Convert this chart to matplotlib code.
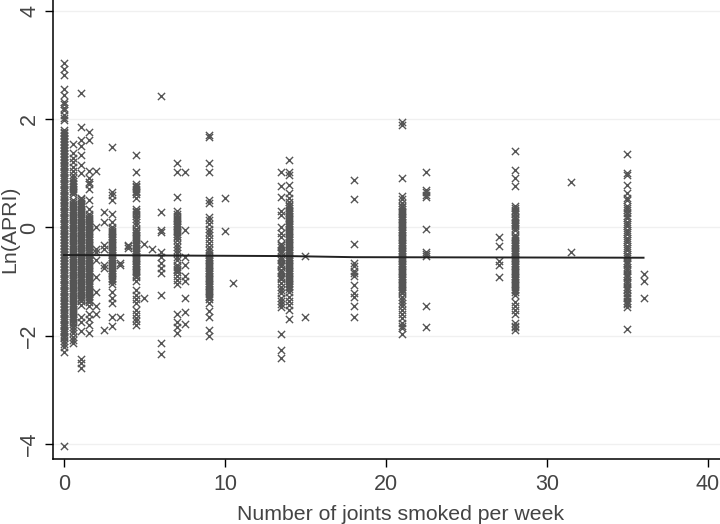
import matplotlib
matplotlib.use("Agg")
import matplotlib.pyplot as plt

##############################################################################################################
# Ln(APRI) against number of joints smoked per week

# INPUT PARAMETERS
joints_list = [0, 0.56, 1.06, 1.54, 2, 2.5, 3, 3.5, 4, 4.5, 5, 5.5, 6, 7, 7.5, 9, 10, 10.5, 13.5, 14, 15, 18, 21, 22.5, 27, 28, 31.5, 35, 36]

apri_0 = [3.05, 2.93, 2.82, 2.57, 2.45, 2.33, 2.28, 2.22, 2.18, 2.08, 2.03, 1.98, 1.80, 1.74, 1.69, 1.63, 1.58, 1.52, 1.47, 1.41, 1.36, 1.30, 1.25, 1.19, 1.14, 1.08, 1.03, 0.97, 0.92, 0.86, 0.81, 0.75, 0.70, 0.64, 0.59, 0.53, 0.48, 0.42, 0.37, 0.31, 0.26, 0.20, 0.15, 0.09, 0.04, -0.02, -0.07, -0.13, -0.18, -0.24, -0.29, -0.35, -0.40, -0.46, -0.51, -0.57, -0.62, -0.68, -0.73, -0.79, -0.84, -0.90, -0.95, -1.01, -1.06, -1.12, -1.17, -1.23, -1.28, -1.34, -1.39, -1.45, -1.50, -1.56, -1.61, -1.67, -1.72, -1.78, -1.83, -1.89, -1.94, -2.00, -2.05, -2.10, -2.16, -2.22, -2.30, -4.05,
          1.77, 1.71, 1.66, 1.60, 1.55, 1.49, 1.44, 1.38, 1.33, 1.27, 1.22, 1.16, 1.11, 1.05, 1.00, 0.94, 0.89, 0.83, 0.78, 0.72, 0.67, 0.61, 0.56, 0.50, 0.45, 0.39, 0.34, 0.28, 0.23, 0.17, 0.12, 0.06, 0.01, -0.05, -0.10, -0.16, -0.21, -0.27, -0.32, -0.38, -0.43, -0.49, -0.54, -0.60, -0.65, -0.71, -0.76, -0.82, -0.87, -0.93, -0.98, -1.04, -1.09, -1.15, -1.20, -1.26, -1.31, -1.37, -1.42, -1.48, -1.53, -1.59, -1.64, -1.70, -1.75, -1.81, -1.86, -1.92, -1.97, -2.03]
apri_05 = [1.54, 1.37, 1.28, 1.22, 1.12, 1.05, 0.98, 0.92, 0.86, 0.80, 0.74, 0.68, 0.62, 0.50, 0.44, 0.38, 0.32, 0.26, 0.20, 0.14, 0.08, 0.02, -0.04, -0.10, -0.16, -0.22, -0.28, -0.34, -0.40, -0.46, -0.52, -0.58, -0.64, -0.70, -0.76, -0.82, -0.88, -0.94, -1.00, -1.06, -1.12, -1.18, -1.24, -1.30, -1.36, -1.42, -1.48, -1.54, -1.60, -1.66, -1.72, -1.78, -1.84, -1.90, -1.96, -2.02, -2.08, -2.14,
           0.83, 0.77, 0.71, 0.65, 0.47, 0.41, 0.35, 0.29, 0.23, 0.17, 0.11, 0.05, -0.01, -0.07, -0.13, -0.19, -0.25, -0.31, -0.37, -0.43, -0.49, -0.55, -0.61, -0.67, -0.73, -0.79, -0.85, -0.91, -0.97, -1.03, -1.09, -1.15, -1.21, -1.27, -1.33, -1.39, -1.45, -1.51, -1.57, -1.63, -1.69, -1.75]
apri_1 = [2.48, 1.86, 1.62, 1.50, 1.35, 1.15, 1.00, 0.55, 0.49, 0.43, 0.37, 0.31, 0.25, 0.19, 0.13, 0.07, 0.01, -0.05, -0.11, -0.17, -0.23, -0.29, -0.35, -0.41, -0.47, -0.53, -0.59, -0.65, -0.71, -0.77, -0.83, -0.89, -0.95, -1.01, -1.07, -1.13, -1.19, -1.25, -1.31, -1.37, -1.44, -1.65, -1.75, -1.92, -2.43, -2.50, -2.60,
          0.52, 0.46, 0.40, 0.34, 0.28, 0.22, 0.16, 0.10, 0.04, -0.02, -0.08, -0.14, -0.20, -0.26, -0.32, -0.38, -0.44, -0.50, -0.56, -0.62, -0.68, -0.74, -0.80, -0.86, -0.92, -0.98, -1.04, -1.10, -1.16, -1.22, -1.28, -1.34]
apri_15 = [1.77, 1.62, 1.05, 0.92, 0.85, 0.80, 0.72, 0.50, 0.35, 0.25, 0.18, 0.12, 0.06, 0.00, -0.06, -0.12, -0.18, -0.24, -0.30, -0.36, -0.42, -0.48, -0.54, -0.60, -0.66, -0.72, -0.78, -0.84, -0.90, -0.96, -1.02, -1.08, -1.14, -1.20, -1.26, -1.32, -1.38, -1.45, -1.60, -1.70, -1.80, -1.95,
           0.21, 0.15, 0.09, 0.03, -0.03, -0.09, -0.15, -0.21, -0.27, -0.33, -0.39, -0.45, -0.51, -0.57, -0.63, -0.69, -0.75, -0.81, -0.87, -0.93, -0.99, -1.05, -1.11, -1.17, -1.23, -1.29, -1.35]
apri_2 = [1.04, 0.00, -0.40, -0.45, -0.60, -0.92, -1.20, -1.45, -1.60]
apri_25 = [0.28, 0.10, -0.33, -0.40, -0.70, -0.75, -1.90]
apri_3 = [1.48, 0.65, 0.60, 0.50, 0.25, 0.10, 0.00, -0.06, -0.12, -0.18, -0.24, -0.30, -0.36, -0.42, -0.48, -0.54, -0.60, -0.66, -0.72, -0.78, -0.84, -0.90, -0.96, -1.05, -1.20, -1.30, -1.40, -1.65, -1.82,
          -0.03, -0.09, -0.15, -0.21, -0.27, -0.33, -0.39, -0.45, -0.51, -0.57, -0.63, -0.69, -0.75, -0.81, -0.87, -0.93, -0.99]
apri_35 = [-0.65, -0.70, -1.65]
apri_4 = [-0.32, -0.35, -0.38]
apri_45 = [1.34, 1.02, 0.80, 0.74, 0.68, 0.62, 0.55, 0.35, 0.28, 0.22, 0.16, 0.10, 0.04, -0.02, -0.08, -0.14, -0.20, -0.26, -0.32, -0.38, -0.44, -0.50, -0.56, -0.62, -0.68, -0.74, -0.80, -0.86, -0.92, -1.00, -1.15, -1.25, -1.32, -1.40, -1.52, -1.60, -1.68, -1.74, -1.80,
           0.77, 0.71, 0.65, 0.31, 0.25, -0.05, -0.11, -0.17, -0.23, -0.29, -0.35, -0.41, -0.47, -0.53, -0.59, -0.65, -0.71, -0.77, -0.83, -0.89]
apri_5 = [-0.30, -1.30]
apri_55 = [-0.40]
apri_6 = [2.44, 0.28, -0.05, -0.08, -0.45, -0.55, -0.65, -0.75, -0.85, -1.25, -2.14, -2.35]
apri_7 = [1.20, 1.03, 0.56, 0.30, 0.24, 0.18, 0.12, 0.06, 0.00, -0.06, -0.12, -0.18, -0.24, -0.30, -0.36, -0.42, -0.48, -0.54, -0.60, -0.70, -0.76, -0.82, -0.90, -0.98, -1.05, -1.60, -1.75, -1.85, -1.95,
          0.21, 0.15, 0.09, 0.03, -0.03, -0.09, -0.15, -0.73, -0.79]
apri_75 = [1.03, -0.05, -0.55, -0.70, -0.90, -1.00, -1.30, -1.57, -1.78]
apri_9 = [1.72, 1.68, 1.20, 1.03, 0.50, 0.45, 0.20, 0.14, 0.06, -0.02, -0.08, -0.14, -0.22, -0.28, -0.36, -0.42, -0.48, -0.54, -0.60, -0.66, -0.72, -0.78, -0.84, -0.90, -0.96, -1.02, -1.08, -1.14, -1.20, -1.26, -1.32, -1.40, -1.55, -1.65, -1.90, -2.00,
          -0.51, -0.57, -0.63, -0.69, -0.75, -0.81, -0.87, -0.93, -0.99, -1.05, -1.11, -1.17, -1.23, -1.29]
apri_10 = [0.55, -0.07]
apri_105 = [-1.03]
apri_135 = [1.03, 0.76, 0.57, 0.30, 0.23, 0.00, -0.10, -0.17, -0.30, -0.36, -0.42, -0.48, -0.54, -0.60, -0.66, -0.72, -0.78, -0.84, -0.90, -0.96, -1.02, -1.10, -1.16, -1.22, -1.30, -1.36, -1.42, -1.47, -1.97, -2.26, -2.41,
            -0.33, -0.45, -0.57, -0.69, -0.81, -0.93]
apri_14 = [1.25, 1.03, 0.98, 0.79, 0.63, 0.54, 0.48, 0.42, 0.36, 0.30, 0.24, 0.18, 0.12, 0.06, 0.00, -0.06, -0.12, -0.18, -0.24, -0.30, -0.36, -0.42, -0.48, -0.54, -0.60, -0.66, -0.72, -0.78, -0.84, -0.90, -0.96, -1.02, -1.08, -1.14, -1.20, -1.28, -1.36, -1.44, -1.53, -1.70,
           0.39, 0.33, 0.27, 0.21, 0.15, 0.09, 0.03, -0.03, -0.09, -0.15, -0.21, -0.27, -0.33, -0.39, -0.45, -0.51, -0.57, -0.63, -0.69, -0.75, -0.81, -0.87, -0.93, -0.99, -1.05, -1.11]
apri_15b = [-0.53, -1.66]
apri_18 = [0.87, 0.53, -0.30, -0.66, -0.72, -0.80, -0.85, -0.90, -1.07, -1.22, -1.28, -1.45, -1.66]
apri_21 = [1.95, 1.90, 0.92, 0.58, 0.52, 0.46, 0.40, 0.34, 0.28, 0.22, 0.16, 0.10, 0.04, -0.02, -0.08, -0.14, -0.20, -0.26, -0.32, -0.38, -0.44, -0.50, -0.56, -0.62, -0.68, -0.74, -0.80, -0.86, -0.92, -0.98, -1.04, -1.10, -1.16, -1.22, -1.28, -1.34, -1.40, -1.46, -1.52, -1.60, -1.68, -1.76, -1.82, -1.87, -1.98,
           0.37, 0.31, 0.25, 0.19, 0.13, 0.07, 0.01, -0.05, -0.11, -0.17, -0.23, -0.29, -0.35, -0.41, -0.47, -0.53, -0.59, -0.65, -0.71, -0.77, -0.83, -0.89, -0.95, -1.01, -1.07, -1.13, -1.19]
apri_225 = [1.03, 0.69, 0.65, 0.60, 0.57, -0.03, -0.45, -0.50, -0.53, -1.45, -1.84]
apri_27 = [-0.17, -0.34, -0.63, -0.69, -0.91]
apri_28 = [1.42, 1.06, 0.92, 0.76, 0.39, 0.33, 0.27, 0.20, 0.14, 0.08, 0.02, -0.05, -0.14, -0.20, -0.26, -0.32, -0.38, -0.44, -0.50, -0.56, -0.62, -0.68, -0.74, -0.80, -0.86, -0.92, -0.98, -1.04, -1.10, -1.16, -1.25, -1.38, -1.46, -1.52, -1.60, -1.77, -1.82, -1.85, -1.90,
           0.36, 0.30, 0.24, 0.17, 0.11, 0.05, -0.01, -0.17, -0.23, -0.29, -0.35, -0.41, -0.47, -0.53, -0.59, -0.65, -0.71, -0.77, -0.83, -0.89, -0.95, -1.01, -1.07, -1.13, -1.20]
apri_315 = [0.84, -0.45]
apri_35b = [1.36, 1.00, 0.97, 0.79, 0.63, 0.55, 0.50, 0.40, 0.33, 0.26, 0.18, 0.11, 0.03, -0.05, -0.12, -0.20, -0.27, -0.34, -0.42, -0.50, -0.56, -0.62, -0.68, -0.74, -0.80, -0.86, -0.92, -0.98, -1.04, -1.10, -1.16, -1.22, -1.30, -1.36, -1.42, -1.47, -1.88,
            0.36, 0.22, 0.07, -0.08, -0.24, -0.38, -0.53, -0.65, -0.77, -0.89, -1.01, -1.13, -1.26, -1.39]
apri_36 = [-0.86, -1.00, -1.30]

apri_list = [apri_0, apri_05, apri_1, apri_15, apri_2, apri_25, apri_3, apri_35, apri_4, apri_45, apri_5, apri_55, apri_6, apri_7, apri_75, apri_9, apri_10, apri_105, apri_135, apri_14, apri_15b, apri_18, apri_21, apri_225, apri_27, apri_28, apri_315, apri_35b, apri_36]

fit_x = [0, 14, 18, 36]
fit_y = [-0.51, -0.53, -0.55, -0.56]
xticks = [0, 10, 20, 30, 40]
yticks = [-4, -2, 0, 2, 4]
##############################################################################################################

plt.rcParams["font.family"] = ["Liberation Sans", "DejaVu Sans"]

fig = plt.figure(figsize=(7.2, 5.24), dpi=100)
ax = fig.add_axes([52.5 / 720, (524 - 458.7) / 524, 1 - 52.5 / 720, 458.7 / 524])

# Horizontal grid under the marks
ax.set_axisbelow(True)
ax.grid(axis="y", color="#f0f0f0", lw=1)

# One column of crosses per value of joints smoked
for joints, apri in zip(joints_list, apri_list):
    ax.scatter([joints] * len(apri), apri, marker="x", s=27, color="#555555", linewidths=1.0)

ax.plot(fit_x, fit_y, color="#222222", lw=1.4)

ax.set_xlim(-0.71, 40.75)
ax.set_ylim(-4.28, 4.21)
ax.set_xticks(xticks)
ax.set_yticks(yticks)
ax.tick_params(axis="both", length=6, width=1, labelsize=15.5, labelcolor="#444444")
ax.tick_params(axis="x", pad=5)
ax.tick_params(axis="y", pad=3)
plt.setp(ax.get_yticklabels(), rotation=90, va="center")
ax.spines["top"].set_visible(False)
ax.spines["right"].set_visible(False)
ax.spines["left"].set_linewidth(1.1)
ax.spines["bottom"].set_linewidth(1.1)

ax.set_xlabel("Number of joints smoked per week", fontsize=15.3, color="#444444")
ax.set_ylabel("Ln(APRI)", fontsize=15.3, color="#444444")
ax.xaxis.set_label_coords(0.522, -0.1)
ax.yaxis.set_label_coords(-0.05, 0.5)

fig.savefig("out.png", dpi=100)
plt.close()
